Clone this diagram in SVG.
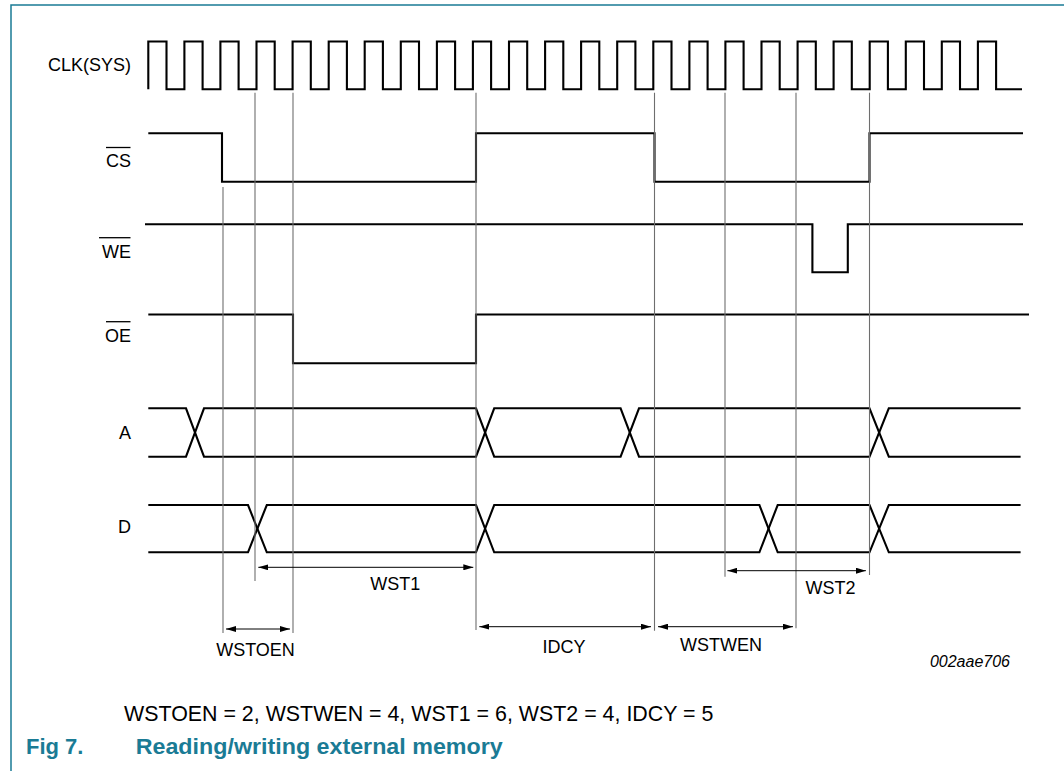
<svg xmlns="http://www.w3.org/2000/svg" width="1064" height="771" viewBox="0 0 1064 771">
<defs>
<style>
.sig{fill:none;stroke:#000;stroke-width:2.1;stroke-linejoin:miter;stroke-linecap:butt}
.guide{fill:none;stroke:#6e6e6e;stroke-width:1.1}
.dim{fill:none;stroke:#000;stroke-width:1;marker-start:url(#ah);marker-end:url(#ah)}
.lbl{font-family:"Liberation Sans",Arial,sans-serif;font-size:18px;fill:#000}
.ovl{stroke:#000;stroke-width:1.3}
.frame{fill:none;stroke:#1a7b95;stroke-width:1.5}
.note{font-family:"Liberation Sans",Arial,sans-serif;font-size:21.4px;fill:#000}
.cap{font-family:"Liberation Sans",Arial,sans-serif;font-size:22px;font-weight:bold;fill:#1a7b95}
</style>
<marker id="ah" viewBox="0 0 10 6" refX="10" refY="3" markerWidth="10" markerHeight="6" markerUnits="userSpaceOnUse" orient="auto-start-reverse">
<path d="M0,0 L10,3 L0,6 z" fill="#000"/>
</marker>
</defs>
<rect width="1064" height="771" fill="#fff"/>
<path class="frame" d="M11,771 V5 H1064"/>

<g id="labels">
<text class="lbl" x="131" y="70.5" text-anchor="end">CLK(SYS)</text>
<text class="lbl" x="131" y="167" text-anchor="end">CS</text>
<line class="ovl" x1="106" y1="147.5" x2="130.5" y2="147.5"/>
<text class="lbl" x="131" y="258.3" text-anchor="end">WE</text>
<line class="ovl" x1="99" y1="237.7" x2="130.5" y2="237.7"/>
<text class="lbl" x="131" y="342" text-anchor="end">OE</text>
<line class="ovl" x1="106" y1="321.7" x2="130.5" y2="321.7"/>
<text class="lbl" x="131" y="439.3" text-anchor="end">A</text>
<text class="lbl" x="131" y="532.7" text-anchor="end">D</text>
</g>

<g id="clk">
<path class="sig" d="M148.3,89.3 V41.5 H166.5 V89.3 H184.4 V41.5 H202.6 V89.3 H220.4 V41.5 H238.6 V89.3 H256.5 V41.5 H274.7 V89.3 H292.6 V41.5 H310.8 V89.3 H328.7 V41.5 H346.9 V89.3 H364.7 V41.5 H382.9 V89.3 H400.8 V41.5 H419 V89.3 H436.9 V41.5 H455.1 V89.3 H472.9 V41.5 H491.1 V89.3 H509 V41.5 H527.2 V89.3 H545.1 V41.5 H563.3 V89.3 H581.1 V41.5 H599.3 V89.3 H617.2 V41.5 H635.4 V89.3 H653.3 V41.5 H671.5 V89.3 H689.4 V41.5 H707.6 V89.3 H725.4 V41.5 H743.6 V89.3 H761.5 V41.5 H779.7 V89.3 H797.6 V41.5 H815.8 V89.3 H833.6 V41.5 H851.8 V89.3 H869.7 V41.5 H887.9 V89.3 H905.8 V41.5 H924 V89.3 H941.8 V41.5 H960 V89.3 H977.9 V41.5 H996.1 V89.3 H1022"/>
</g>

<g id="cs">
<path class="sig" d="M148.3,133.3 H222 V181.7 H476 V133.3 H654.5 V181.7 H869.5 V133.3 H1023"/>
</g>

<g id="we">
<path class="sig" d="M145,224.3 H812.4 V272.3 H847.8 V224.3 H1023"/>
</g>

<g id="oe">
<path class="sig" d="M148.3,314.5 H293 V363.3 H476 V314.5 H1029"/>
</g>

<g id="a">
<path class="sig" d="M148.3,408.3 H186 L204,456.7 H476 L494.2,408.3 H620.6 L639,456.7 H869.5 L888.8,408.3 H1020.6"/>
<path class="sig" d="M148.3,456.7 H186 L204,408.3 H476 L494.2,456.7 H620.6 L639,408.3 H869.5 L888.8,456.7 H1020.6"/>
</g>

<g id="d">
<path class="sig" d="M148.3,505 H248 L266.8,552.3 H476 L494.2,505 H759.4 L777.7,552.3 H869.5 L888.8,505 H1020.6"/>
<path class="sig" d="M148.3,552.3 H248 L266.8,505 H476 L494.2,552.3 H759.4 L777.7,505 H869.5 L888.8,552.3 H1020.6"/>
</g>

<g id="connectors">
<line class="guide" x1="223" y1="187" x2="223" y2="633"/>
<line class="guide" x1="255" y1="92.7" x2="255" y2="581"/>
<line class="guide" x1="293" y1="92.7" x2="293" y2="633"/>
<line class="guide" x1="476" y1="92.7" x2="476" y2="630"/>
<line class="guide" x1="654.5" y1="92.7" x2="654.5" y2="630.7"/>
<line class="guide" x1="725" y1="92.7" x2="725" y2="576.7"/>
<line class="guide" x1="796" y1="92.7" x2="796" y2="628.3"/>
<line class="guide" x1="869.5" y1="92.7" x2="869.5" y2="575"/>
<line class="dim" x1="226" y1="629" x2="290" y2="629"/>
<line class="dim" x1="258.3" y1="567.3" x2="473.3" y2="567.3"/>
<line class="dim" x1="479.3" y1="626.7" x2="651" y2="626.7"/>
<line class="dim" x1="658" y1="626.7" x2="793" y2="626.7"/>
<line class="dim" x1="727.4" y1="570.7" x2="865.9" y2="570.7"/>
</g>

<g id="dim-labels">
<text class="lbl" x="255.5" y="656" text-anchor="middle">WSTOEN</text>
<text class="lbl" x="395.3" y="590" text-anchor="middle">WST1</text>
<text class="lbl" x="564" y="653.3" text-anchor="middle">IDCY</text>
<text class="lbl" x="721" y="651.3" text-anchor="middle">WSTWEN</text>
<text class="lbl" x="830.4" y="594" text-anchor="middle">WST2</text>
<text class="lbl" x="1010" y="667.3" text-anchor="end" style="font-size:16px;font-style:italic">002aae706</text>
</g>

<g id="notes">
<text class="note" x="124" y="720.5">WSTOEN = 2, WSTWEN = 4, WST1 = 6, WST2 = 4, IDCY = 5</text>
<text class="cap" x="26" y="754">Fig 7.</text>
<text class="cap" x="135.7" y="754" textLength="367" lengthAdjust="spacingAndGlyphs">Reading/writing external memory</text>
</g>
</svg>
